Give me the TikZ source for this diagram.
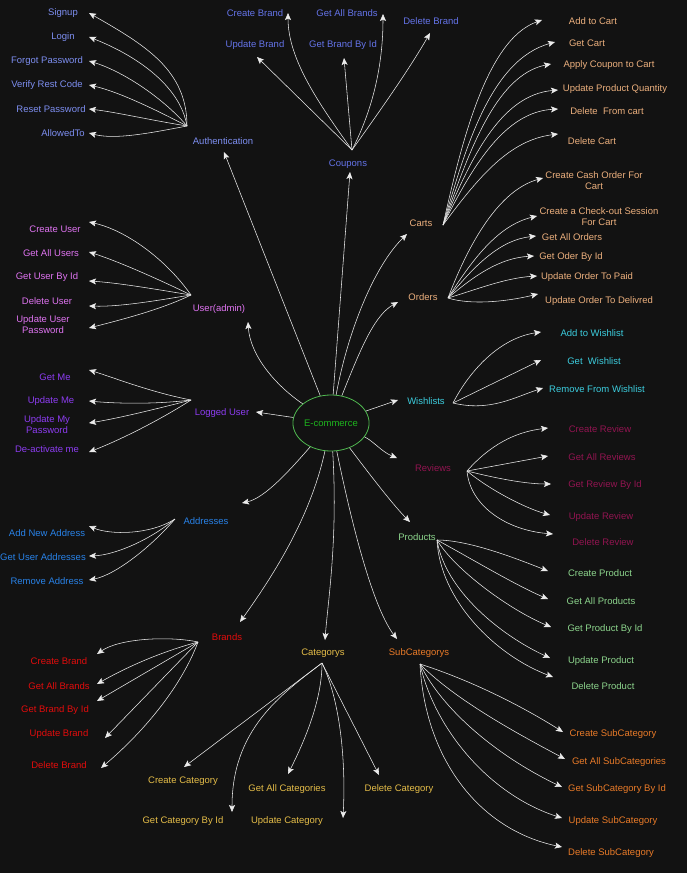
\documentclass[tikz,border=0pt]{standalone}
\usepackage{fontspec}
\setmainfont{Liberation Sans}
\usetikzlibrary{arrows.meta,shapes.geometric}
\definecolor{bg}{RGB}{18,18,18}
\definecolor{lnc}{RGB}{235,235,235}
\definecolor{authc}{RGB}{125,142,240}
\definecolor{coupc}{RGB}{100,115,232}
\definecolor{cartc}{RGB}{235,175,125}
\definecolor{userc}{RGB}{222,115,240}
\definecolor{logc}{RGB}{140,60,240}
\definecolor{addrc}{RGB}{40,130,232}
\definecolor{wishc}{RGB}{60,205,222}
\definecolor{revc}{RGB}{145,20,80}
\definecolor{prodc}{RGB}{140,212,140}
\definecolor{brandc}{RGB}{225,12,12}
\definecolor{catc}{RGB}{228,188,72}
\definecolor{subc}{RGB}{232,122,40}
\definecolor{ect}{RGB}{30,180,30}
\definecolor{ecb}{RGB}{80,185,80}
\newcommand\lbfont{\fontsize{9.5}{11}\selectfont}
\newcommand\lf[5]{\node[lbl,text=#1] (#2) at (#3) {#4}; \coordinate (#2t) at (#5);}
\begin{document}
\begin{tikzpicture}[x=1pt,y=-1pt,
  lbl/.style={inner sep=0pt,font=\lbfont,align=center,yshift=-1.2pt},
  arr/.style={draw=lnc,line width=0.55pt,-{Stealth[length=7pt,width=6pt,inset=1.5pt]}}]
\useasboundingbox (0,0) rectangle (687,873);
\fill[bg] (0,0) rectangle (687,873);
% centre
\node[ellipse,draw=ecb,line width=0.8pt,minimum width=72pt,minimum height=56pt,inner sep=0pt,text=ect,font=\lbfont] (ec) at (331,423) {E-commerce};
% hubs
\coordinate (A) at (187,126);
\coordinate (C) at (352,150);
\coordinate (R) at (443,225);
\coordinate (O) at (448,298);
\coordinate (U) at (191,295);
\coordinate (L) at (191,400);
\coordinate (D) at (175,519);
\coordinate (W) at (453,403);
\coordinate (V) at (467,471);
\coordinate (P) at (437,540);
\coordinate (B) at (198,642);
\coordinate (K) at (322,663);
\coordinate (S) at (420,664);
% group labels
\lf{authc}{auth}{223,140}{Authentication}{224,152}
\lf{coupc}{coup}{348,163}{Coupons}{350,172}
\lf{cartc}{carts}{421,222}{Carts}{407,234}
\lf{cartc}{orders}{423,296}{Orders}{398,302}
\lf{userc}{uadm}{219,308}{User(admin)}{248,322}
\lf{logc}{logged}{222,412}{Logged User}{256,412}
\lf{addrc}{addr}{206,520}{Addresses}{242,503}
\lf{wishc}{wish}{426,400}{Wishlists}{398,400}
\lf{revc}{rev}{433,467}{Reviews}{397,458}
\lf{prodc}{prod}{417,536}{Products}{410,522}
\lf{brandc}{brands}{227,636}{Brands}{240,622}
\lf{catc}{cats}{323,652}{Categorys}{325,640}
\lf{subc}{subs}{419,652}{SubCategorys}{397,639}
% leaves
\lf{authc}{signup}{63,12}{Signup}{89,13}
\lf{authc}{login}{63,36}{Login}{89,37}
\lf{authc}{forgot}{47,60}{Forgot Password}{89,61}
\lf{authc}{verify}{47,84}{Verify Rest Code}{89,85}
\lf{authc}{reset}{51,108}{Reset Password}{89,109}
\lf{authc}{allowed}{63,132}{AllowedTo}{89,133}
\lf{coupc}{cb}{255,12}{Create Brand}{288,13}
\lf{coupc}{gab}{347,12}{Get All Brands}{383,14}
\lf{coupc}{db}{431,20}{Delete Brand}{430,33}
\lf{coupc}{ub}{255,44}{Update Brand}{257,57}
\lf{coupc}{gbi}{343,44}{Get Brand By Id}{344,58}
\lf{cartc}{atc}{593,20}{Add to Cart}{542,20}
\lf{cartc}{gc}{587,42}{Get Cart}{555,42}
\lf{cartc}{acc}{609,64}{Apply Coupon to Cart}{551,64}
\lf{cartc}{upq}{615,88}{Update Product Quantity}{558,90}
\lf{cartc}{dfc}{607,110}{Delete\ \ From cart}{558,109}
\lf{cartc}{dc}{592,140}{Delete Cart}{558,134}
\lf{cartc}{cco}{594,179}{Create Cash Order For\\Cart}{543,178}
\lf{cartc}{ccs}{599,215}{Create a Check-out Session\\For Cart}{537,216}
\lf{cartc}{gao}{572,236}{Get All Orders}{536,236}
\lf{cartc}{gob}{571,256}{Get Oder By Id}{534,256}
\lf{cartc}{uop}{587,276}{Update Order To Paid}{537,276}
\lf{cartc}{uod}{599,300}{Update Order To Delivred}{538,294}
\lf{userc}{cu}{55,228}{Create User}{89,222}
\lf{userc}{gau}{51,252}{Get All Users}{89,252}
\lf{userc}{gub}{47,276}{Get User By Id}{89,281}
\lf{userc}{du}{47,300}{Delete User}{89,306}
\lf{userc}{uup}{43,323}{Update User\\Password}{89,328}
\lf{logc}{gm}{55,376}{Get Me}{89,370}
\lf{logc}{um}{51,400}{Update Me}{89,401}
\lf{logc}{ump}{47,423}{Update My\\Password}{89,423}
\lf{logc}{dam}{47,448}{De-activate me}{89,452}
\lf{addrc}{ana}{47,532}{Add New Address}{89,526}
\lf{addrc}{gua}{43,556}{Get User Addresses}{89,556}
\lf{addrc}{ra}{47,580}{Remove Address}{89,580}
\lf{wishc}{aw}{592,332}{Add to Wishlist}{541,332}
\lf{wishc}{gw}{594,360}{Get\ \ Wishlist}{541,360}
\lf{wishc}{rw}{597,388}{Remove From Wishlist}{543,388}
\lf{revc}{cr}{600,428}{Create Review}{548,428}
\lf{revc}{gar}{602,456}{Get All Reviews}{548,456}
\lf{revc}{grb}{605,484}{Get Review By Id}{551,484}
\lf{revc}{ur}{601,516}{Update Review}{550,515}
\lf{revc}{dr}{603,541}{Delete Review}{553,534}
\lf{prodc}{cp}{600,572}{Create Product}{548,571}
\lf{prodc}{gap}{601,600}{Get All Products}{548,599}
\lf{prodc}{gpb}{605,628}{Get Product By Id}{551,627}
\lf{prodc}{up}{601,660}{Update Product}{550,658}
\lf{prodc}{dp}{603,685}{Delete Product}{553,677}
\lf{brandc}{cb2}{59,660}{Create Brand}{97,654}
\lf{brandc}{gab2}{59,685}{Get All Brands}{97,684}
\lf{brandc}{gbb2}{55,709}{Get Brand By Id}{97,701}
\lf{brandc}{ub2}{59,733}{Update Brand}{105,738}
\lf{brandc}{db2}{59,764}{Delete Brand}{101,768}
\lf{catc}{cc}{183,780}{Create Category}{184,767}
\lf{catc}{gcb}{183,820}{Get Category By Id}{232,812}
\lf{catc}{gac}{287,788}{Get All Categories}{288,774}
\lf{catc}{uc}{287,820}{Update Category}{343,818}
\lf{catc}{dcat}{399,788}{Delete Category}{379,775}
\lf{subc}{cs}{613,733}{Create SubCategory}{563,732}
\lf{subc}{gas}{619,761}{Get All SubCategories}{565,759}
\lf{subc}{gsb}{617,788}{Get SubCategory By Id}{562,787}
\lf{subc}{us}{613,820}{Update SubCategory}{562,818}
\lf{subc}{ds}{611,852}{Delete SubCategory}{562,847}
% central connectors
\draw[arr] (ec) -- (autht);
\draw[arr] (ec) -- (coupt);
\draw[arr] (ec) .. controls (348,330) and (375,265) .. (cartst);
\draw[arr] (ec) .. controls (362,345) and (375,315) .. (orderst);
\draw[arr] (ec) .. controls (275,385) and (250,355) .. (uadmt);
\draw[arr] (ec) -- (loggedt);
\draw[arr] (ec) .. controls (290,470) and (265,498) .. (addrt);
\draw[arr] (ec) -- (wisht);
\draw[arr] (ec) .. controls (372,440) and (382,452) .. (revt);
\draw[arr] (ec) .. controls (385,495) and (400,512) .. (prodt);
\draw[arr] (ec) .. controls (310,520) and (270,580) .. (brandst);
\draw[arr] (ec) .. controls (338,540) and (328,600) .. (catst);
\draw[arr] (ec) .. controls (355,540) and (375,610) .. (subst);
% authentication
\draw[arr] (A) .. controls (187,70) and (145,45) .. (signupt);
\draw[arr] (A) .. controls (180,85) and (135,55) .. (logint);
\draw[arr] (A) .. controls (165,100) and (125,72) .. (forgott);
\draw[arr] (A) .. controls (160,112) and (120,92) .. (verifyt);
\draw[arr] (A) .. controls (150,120) and (115,112) .. (resett);
\draw[arr] (A) .. controls (150,133) and (115,140) .. (allowedt);
% coupons
\draw[arr] (C) .. controls (320,105) and (288,60) .. (cbt);
\draw[arr] (C) .. controls (375,105) and (383,60) .. (gabt);
\draw[arr] (C) .. controls (382,108) and (410,68) .. (dbt);
\draw[arr] (C) -- (ubt);
\draw[arr] (C) -- (gbit);
% carts
\draw[arr] (R) .. controls (460,150) and (485,40) .. (atct);
\draw[arr] (R) .. controls (465,150) and (490,60) .. (gct);
\draw[arr] (R) .. controls (468,155) and (495,75) .. (acct);
\draw[arr] (R) .. controls (470,160) and (500,95) .. (upqt);
\draw[arr] (R) .. controls (473,165) and (505,112) .. (dfct);
\draw[arr] (R) .. controls (480,175) and (510,140) .. (dct);
% orders
\draw[arr] (O) .. controls (470,240) and (500,190) .. (ccot);
\draw[arr] (O) .. controls (475,255) and (500,225) .. (ccst);
\draw[arr] (O) .. controls (475,265) and (500,240) .. (gaot);
\draw[arr] (O) .. controls (475,275) and (500,258) .. (gobt);
\draw[arr] (O) .. controls (475,290) and (505,278) .. (uopt);
\draw[arr] (O) .. controls (470,305) and (505,302) .. (uodt);
% user admin
\draw[arr] (U) .. controls (165,258) and (125,230) .. (cut);
\draw[arr] (U) .. controls (160,280) and (120,262) .. (gaut);
\draw[arr] (U) .. controls (160,290) and (120,283) .. (gubt);
\draw[arr] (U) .. controls (160,300) and (120,307) .. (dut);
\draw[arr] (U) .. controls (160,310) and (120,320) .. (uupt);
% logged user
\draw[arr] (L) .. controls (150,392) and (115,378) .. (gmt);
\draw[arr] (L) .. controls (150,405) and (110,403) .. (umt);
\draw[arr] (L) .. controls (160,408) and (120,418) .. (umpt);
\draw[arr] (L) .. controls (160,420) and (120,440) .. (damt);
% addresses
\draw[arr] (D) .. controls (150,535) and (110,535) .. (anat);
\draw[arr] (D) .. controls (150,540) and (115,555) .. (guat);
\draw[arr] (D) .. controls (150,548) and (115,575) .. (rat);
% wishlists
\draw[arr] (W) .. controls (470,370) and (500,338) .. (awt);
\draw[arr] (W) -- (gwt);
\draw[arr] (W) .. controls (490,412) and (515,397) .. (rwt);
% reviews
\draw[arr] (V) .. controls (490,445) and (515,432) .. (crt);
\draw[arr] (V) -- (gart);
\draw[arr] (V) .. controls (495,478) and (525,484) .. (grbt);
\draw[arr] (V) .. controls (490,490) and (525,508) .. (urt);
\draw[arr] (V) .. controls (470,505) and (505,530) .. (drt);
% products
\draw[arr] (P) .. controls (470,540) and (520,560) .. (cpt);
\draw[arr] (P) .. controls (465,555) and (515,585) .. (gapt);
\draw[arr] (P) .. controls (455,570) and (510,610) .. (gpbt);
\draw[arr] (P) .. controls (445,590) and (500,635) .. (upt);
\draw[arr] (P) .. controls (440,600) and (495,655) .. (dpt);
% brands
\draw[arr] (B) .. controls (170,636) and (120,638) .. (cb2t);
\draw[arr] (B) .. controls (160,652) and (125,668) .. (gab2t);
\draw[arr] (B) -- (gbb2t);
\draw[arr] (B) -- (ub2t);
\draw[arr] (B) .. controls (180,690) and (140,735) .. (db2t);
% categorys
\draw[arr] (K) -- (cct);
\draw[arr] (K) .. controls (280,695) and (232,730) .. (gcbt);
\draw[arr] (K) .. controls (322,700) and (305,740) .. (gact);
\draw[arr] (K) .. controls (340,700) and (346,760) .. (uct);
\draw[arr] (K) -- (dcatt);
% subcategorys
\draw[arr] (S) .. controls (470,680) and (520,705) .. (cst);
\draw[arr] (S) .. controls (455,700) and (520,735) .. (gast);
\draw[arr] (S) .. controls (445,715) and (505,760) .. (gsbt);
\draw[arr] (S) .. controls (435,730) and (490,795) .. (ust);
\draw[arr] (S) .. controls (425,760) and (480,830) .. (dst);
\end{tikzpicture}
\end{document}
